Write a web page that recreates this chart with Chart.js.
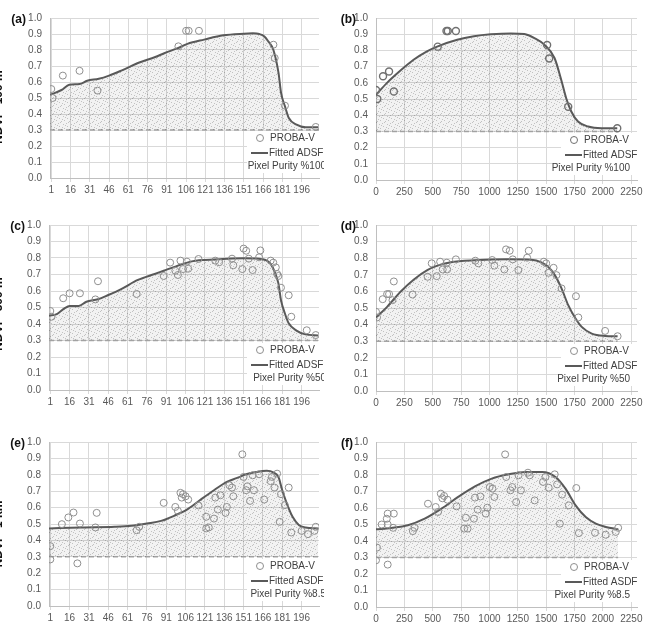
<!DOCTYPE html>
<html>
<head>
<meta charset="utf-8">
<script src="https://cdn.jsdelivr.net/npm/chart.js@4.4.1/dist/chart.umd.min.js"></script>
<style>
  html, body { margin: 0; padding: 0; background: #fff; }
  #wrap { position: relative; width: 648px; height: 639px; overflow: hidden; }
  canvas { position: absolute; }
</style>
</head>
<body>
<div id="wrap">
  <canvas id="pa" width="324" height="205" style="left:0;top:0"></canvas>
  <canvas id="pb" width="324" height="205" style="left:324px;top:0"></canvas>
  <canvas id="pc" width="324" height="210" style="left:0;top:205px"></canvas>
  <canvas id="pd" width="324" height="210" style="left:324px;top:205px"></canvas>
  <canvas id="pe" width="324" height="224" style="left:0;top:415px"></canvas>
  <canvas id="pf" width="324" height="224" style="left:324px;top:415px"></canvas>
</div>
<script>
// ---- shared axis data ----
const ndviTicks = [0.0, 0.1, 0.2, 0.3, 0.4, 0.5, 0.6, 0.7, 0.8, 0.9, 1.0];
const dayTicks = [1, 16, 31, 46, 61, 76, 91, 106, 121, 136, 151, 166, 181, 196];
const gddTicks = [0, 250, 500, 750, 1000, 1250, 1500, 1750, 2000, 2250];
const baseNdvi = 0.3;

// ---- pixel purity %100 ----
const obsDay100 = [1, 2, 10, 23, 37, 100, 106, 108, 116, 174, 175, 183, 207];
const obsGdd100 = [0, 12, 62, 115, 157, 544, 621, 633, 704, 1508, 1526, 1694, 2126];
const obsNdvi100 = [0.556, 0.50, 0.64, 0.67, 0.546, 0.823, 0.92, 0.92, 0.92, 0.833, 0.75, 0.452, 0.319];
const fitDay100 = [0, 9, 15, 23, 29, 38, 46, 56, 69, 82, 89, 99, 107, 120, 135, 151, 158, 163, 167, 170, 174, 178, 180, 183, 186, 192, 199, 209];
const fitNdviDay100 = [0.52, 0.55, 0.583, 0.587, 0.608, 0.62, 0.64, 0.673, 0.72, 0.756, 0.78, 0.81, 0.838, 0.865, 0.892, 0.902, 0.904, 0.9, 0.885, 0.854, 0.8, 0.656, 0.53, 0.448, 0.375, 0.333, 0.317, 0.317];
const fitGdd100 = [0, 95, 213, 331, 449, 544, 716, 863, 1011, 1189, 1307, 1396, 1484, 1573, 1632, 1676, 1721, 1780, 1869, 1987, 2126];
const fitNdviGdd100 = [0.526, 0.598, 0.674, 0.742, 0.794, 0.825, 0.866, 0.887, 0.899, 0.905, 0.901, 0.876, 0.835, 0.753, 0.619, 0.505, 0.423, 0.361, 0.33, 0.32, 0.32];

// ---- pixel purity %50 ----
const obsDay50 = [1, 2, 11, 16, 24, 36, 38, 68, 89, 94, 98, 100, 102, 104, 107, 108, 116, 129, 132, 142, 143, 150, 151, 153, 155, 158, 163, 164, 172, 174, 176, 177, 178, 180, 186, 188, 200, 207];
const obsNdviDay50 = [0.479, 0.444, 0.556, 0.586, 0.586, 0.549, 0.659, 0.582, 0.691, 0.772, 0.723, 0.697, 0.784, 0.733, 0.778, 0.735, 0.794, 0.784, 0.774, 0.796, 0.756, 0.733, 0.857, 0.844, 0.796, 0.727, 0.804, 0.846, 0.784, 0.772, 0.743, 0.703, 0.691, 0.62, 0.574, 0.444, 0.362, 0.333];
const fitDay50 = [0, 6, 12, 16, 23, 29, 38, 46, 56, 69, 82, 89, 100, 110, 120, 135, 151, 163, 168, 172, 175, 178, 180, 183, 186, 192, 199, 209];
const fitNdviDay50 = [0.45, 0.46, 0.495, 0.509, 0.509, 0.535, 0.55, 0.576, 0.612, 0.667, 0.703, 0.723, 0.754, 0.778, 0.788, 0.794, 0.798, 0.796, 0.788, 0.764, 0.717, 0.646, 0.545, 0.465, 0.404, 0.36, 0.337, 0.331];
const obsGdd50 = [0, 9, 59, 98, 115, 145, 157, 322, 455, 491, 535, 565, 588, 624, 627, 704, 875, 902, 1024, 1043, 1131, 1146, 1178, 1205, 1255, 1332, 1346, 1479, 1500, 1521, 1565, 1590, 1635, 1762, 1783, 2019, 2129];
const obsNdviGdd50 = [0.477, 0.443, 0.553, 0.584, 0.584, 0.547, 0.66, 0.581, 0.688, 0.769, 0.692, 0.779, 0.732, 0.773, 0.732, 0.793, 0.785, 0.769, 0.789, 0.755, 0.732, 0.853, 0.845, 0.793, 0.728, 0.803, 0.845, 0.779, 0.769, 0.712, 0.742, 0.698, 0.618, 0.571, 0.443, 0.362, 0.33];
const fitGdd50 = [0, 98, 216, 334, 452, 541, 659, 866, 1162, 1369, 1458, 1517, 1576, 1635, 1694, 1753, 1813, 1901, 2019, 2129];
const fitNdviGdd50 = [0.443, 0.507, 0.598, 0.672, 0.728, 0.755, 0.775, 0.787, 0.793, 0.791, 0.775, 0.748, 0.698, 0.618, 0.517, 0.443, 0.386, 0.346, 0.332, 0.33];

// ---- pixel purity %8.5 ----
const obsDay8 = [1, 1, 10, 15, 19, 22, 24, 36, 37, 68, 70, 89, 98, 100, 102, 103, 104, 106, 108, 116, 122, 122, 124, 128, 129, 131, 133, 137, 138, 140, 142, 143, 150, 151, 153, 154, 156, 158, 159, 163, 167, 172, 173, 175, 177, 179, 180, 183, 186, 188, 196, 201, 206, 207];
const obsNdviDay8 = [0.284, 0.365, 0.499, 0.54, 0.57, 0.26, 0.503, 0.479, 0.568, 0.462, 0.483, 0.629, 0.604, 0.58, 0.69, 0.661, 0.682, 0.669, 0.649, 0.613, 0.544, 0.473, 0.479, 0.533, 0.661, 0.588, 0.675, 0.568, 0.604, 0.736, 0.722, 0.669, 0.925, 0.787, 0.706, 0.73, 0.641, 0.797, 0.706, 0.803, 0.649, 0.761, 0.787, 0.722, 0.807, 0.513, 0.682, 0.615, 0.722, 0.448, 0.458, 0.438, 0.458, 0.483];
const fitDay8 = [0, 25, 51, 64, 76, 87, 97, 107, 117, 128, 138, 146, 153, 161, 169, 174, 178, 181, 185, 189, 194, 199, 209];
const fitNdviDay8 = [0.473, 0.479, 0.483, 0.489, 0.503, 0.519, 0.55, 0.588, 0.645, 0.706, 0.757, 0.781, 0.803, 0.817, 0.824, 0.815, 0.787, 0.706, 0.615, 0.544, 0.493, 0.479, 0.473];
const obsGdd8 = [0, 9, 50, 95, 103, 103, 103, 151, 157, 325, 340, 458, 526, 547, 571, 585, 600, 630, 710, 777, 792, 807, 863, 872, 896, 920, 967, 981, 1002, 1026, 1043, 1138, 1147, 1185, 1200, 1235, 1256, 1277, 1339, 1354, 1398, 1472, 1493, 1522, 1575, 1596, 1620, 1640, 1699, 1765, 1788, 1930, 2024, 2113, 2134];
const obsNdviGdd8 = [0.283, 0.36, 0.5, 0.535, 0.566, 0.5, 0.257, 0.48, 0.566, 0.46, 0.48, 0.626, 0.606, 0.576, 0.687, 0.659, 0.673, 0.65, 0.61, 0.475, 0.541, 0.475, 0.535, 0.663, 0.59, 0.67, 0.566, 0.602, 0.727, 0.717, 0.667, 0.925, 0.788, 0.707, 0.727, 0.636, 0.798, 0.707, 0.814, 0.798, 0.646, 0.758, 0.788, 0.723, 0.804, 0.743, 0.505, 0.681, 0.616, 0.721, 0.448, 0.45, 0.438, 0.455, 0.48];
const fitGdd8 = [0, 133, 281, 429, 577, 724, 872, 1020, 1168, 1316, 1464, 1582, 1670, 1759, 1848, 1937, 2025, 2134];
const fitNdviGdd8 = [0.471, 0.479, 0.495, 0.535, 0.596, 0.667, 0.731, 0.778, 0.804, 0.818, 0.818, 0.788, 0.717, 0.616, 0.545, 0.505, 0.485, 0.471];

const font = "'Liberation Sans Narrow', 'Liberation Sans', Arial, sans-serif";

function pts(xs, ys) {
  return xs.map((x, i) => ({ x: x, y: ys[i] }));
}

// light speckled grey fill like the excel area pattern
function makeStipple() {
  const pc = document.createElement('canvas');
  pc.width = 8; pc.height = 8;
  const g = pc.getContext('2d');
  g.fillStyle = 'rgba(0,0,0,0.05)';
  g.fillRect(0, 0, 8, 8);
  g.fillStyle = 'rgba(0,0,0,0.2)';
  [[0, 0], [5, 1], [2, 3], [7, 4], [3, 6], [6, 7], [1, 5], [4, 2]].forEach(([x, y]) => g.fillRect(x, y, 1, 1));
  return g.createPattern(pc, 'repeat');
}
const stipple = makeStipple();

const decoPlugin = {
  id: 'deco',
  beforeDatasetsDraw(chart, args, o) {
    const a = chart.chartArea, c = chart.ctx;
    c.save();
    c.fillStyle = '#fff';
    c.fillRect(o.markX - 13, a.bottom - 47, a.right - (o.markX - 13), 42);
    c.restore();
  },
  afterDraw(chart, args, o) {
    const a = chart.chartArea, c = chart.ctx, m = o.markX;
    const ds = chart.data.datasets;
    c.save();
    c.font = '10px ' + font;
    c.fillStyle = '#404040';
    c.textBaseline = 'middle';
    c.strokeStyle = o.markColor;
    c.lineWidth = 1;
    c.beginPath();
    c.arc(m, a.bottom - 40, 3.5, 0, Math.PI * 2);
    c.stroke();
    c.fillText(ds[0].label, m + 10, a.bottom - 40);
    c.strokeStyle = '#595959';
    c.lineWidth = 2;
    c.beginPath();
    c.moveTo(m - 9, a.bottom - 25);
    c.lineTo(m + 8, a.bottom - 25);
    c.stroke();
    c.fillText(ds[1].label, m + 9, a.bottom - 25);
    c.textAlign = 'right';
    c.fillText(o.purity, o.purityRight, a.bottom - 12);
    // panel letter
    c.font = 'bold 12px ' + font;
    c.fillStyle = '#111';
    c.fillText(o.letter, a.left - o.letterGap, a.top + 2);
    // y title, mostly cut off by the page edge
    if (o.yTitle) {
      c.translate(-1, o.titleY);
      c.rotate(-Math.PI / 2);
      c.textAlign = 'center';
      c.fillText(o.yTitle, 0, 0);
    }
    c.restore();
  }
};

function panelChart(id, p) {
  return new Chart(document.getElementById(id), {
    type: 'line',
    data: {
      datasets: [
        {
          label: 'PROBA-V',
          data: pts(p.obsX, p.obsY),
          showLine: false,
          pointRadius: 3.5,
          pointBorderColor: p.markColor,
          pointBorderWidth: p.markWidth,
          pointBackgroundColor: 'rgba(0,0,0,0)',
          order: 1
        },
        {
          label: p.fitName,
          data: pts(p.fitX, p.fitY),
          borderColor: '#595959',
          borderWidth: 2,
          pointRadius: 0,
          cubicInterpolationMode: 'monotone',
          fill: { value: baseNdvi },
          backgroundColor: stipple,
          order: 2
        },
        {
          label: 'base',
          data: pts(p.baseX, [baseNdvi, baseNdvi]),
          borderColor: '#a6a6a6',
          borderWidth: 1.5,
          borderDash: [5, 3],
          pointRadius: 0,
          order: 3
        }
      ]
    },
    options: {
      responsive: false,
      animation: false,
      devicePixelRatio: 1,
      layout: { padding: { left: 0, top: p.padTop, right: p.padRight, bottom: 0 } },
      scales: {
        x: {
          type: 'linear',
          min: p.xMin,
          max: p.xMax,
          afterBuildTicks: s => { s.ticks = p.xTicks.map(v => ({ value: v })); },
          afterFit: s => { s.height = p.xAxisH; },
          grid: { color: '#d9d9d9', tickLength: 4, tickColor: '#d9d9d9' },
          border: { color: '#bfbfbf' },
          ticks: {
            color: '#595959', font: { family: font, size: 10 }, padding: 2,
            maxRotation: 0, autoSkip: false, callback: v => String(v)
          }
        },
        y: {
          min: 0,
          max: 1,
          afterBuildTicks: s => { s.ticks = ndviTicks.map(v => ({ value: v })); },
          afterFit: s => { s.width = p.yAxisW; },
          grid: { color: '#d9d9d9', drawTicks: false },
          border: { color: '#bfbfbf' },
          ticks: {
            color: '#595959', font: { family: font, size: 10 }, padding: 8,
            callback: v => v.toFixed(1)
          }
        }
      },
      plugins: {
        legend: { display: false },
        tooltip: { enabled: false },
        deco: {
          letter: p.letter, letterGap: p.letterGap, purity: p.purity,
          markX: p.markX, purityRight: p.purityRight, markColor: p.markColor,
          yTitle: p.yTitle, titleY: p.titleY
        }
      }
    },
    plugins: [decoPlugin]
  });
}

const dayAxis = { xMin: 0, xMax: 209.5, xTicks: dayTicks, padRight: 1, markX: 260, purityRight: 326, letterGap: 24 };
const gddAxis = { xMin: 0, xMax: 2300, xTicks: gddTicks, padRight: 11, markX: 250, purityRight: 306, yAxisW: 52, letterGap: 20 };

panelChart('pa', Object.assign({}, dayAxis, {
  obsX: obsDay100, obsY: obsNdvi100, fitX: fitDay100, fitY: fitNdviDay100, baseX: [0, 209.5],
  fitName: 'Fitted ADSF', purity: 'Pixel Purity %100', letter: '(a)',
  markColor: '#8f8f8f', markWidth: 1, padTop: 18, xAxisH: 27, yAxisW: 50,
  yTitle: 'NDVI - 100 m', titleY: 107
}));
panelChart('pb', Object.assign({}, gddAxis, {
  obsX: obsGdd100, obsY: obsNdvi100, fitX: fitGdd100, fitY: fitNdviGdd100, baseX: [0, 2126],
  fitName: 'Fitted ADSF', purity: 'Pixel Purity %100', letter: '(b)',
  markColor: '#707070', markWidth: 1.4, padTop: 18, xAxisH: 25
}));
panelChart('pc', Object.assign({}, dayAxis, {
  obsX: obsDay50, obsY: obsNdviDay50, fitX: fitDay50, fitY: fitNdviDay50, baseX: [0, 209.5],
  fitName: 'Fitted ADSF', purity: 'Pixel Purity %50', letter: '(c)',
  markColor: '#8f8f8f', markWidth: 1, padTop: 20, xAxisH: 25, yAxisW: 49,
  yTitle: 'NDVI - 300 m', titleY: 109
}));
panelChart('pd', Object.assign({}, gddAxis, {
  obsX: obsGdd50, obsY: obsNdviGdd50, fitX: fitGdd50, fitY: fitNdviGdd50, baseX: [0, 2129],
  fitName: 'Fitted ADSF', purity: 'Pixel Purity %50', letter: '(d)',
  markColor: '#8f8f8f', markWidth: 1, padTop: 20, xAxisH: 24
}));
panelChart('pe', Object.assign({}, dayAxis, {
  obsX: obsDay8, obsY: obsNdviDay8, fitX: fitDay8, fitY: fitNdviDay8, baseX: [0, 209.5],
  fitName: 'Fitted ASDF', purity: 'Pixel Purity %8.5', letter: '(e)',
  markColor: '#8f8f8f', markWidth: 1, padTop: 27, xAxisH: 33, yAxisW: 49,
  yTitle: 'NDVI - 1 km', titleY: 119
}));
panelChart('pf', Object.assign({}, gddAxis, {
  obsX: obsGdd8, obsY: obsNdviGdd8, fitX: fitGdd8, fitY: fitNdviGdd8, baseX: [0, 2134],
  fitName: 'Fitted ASDF', purity: 'Pixel Purity %8.5', letter: '(f)',
  markColor: '#8f8f8f', markWidth: 1, padTop: 27, xAxisH: 32, letterGap: 23
}));
</script>
</body>
</html>
